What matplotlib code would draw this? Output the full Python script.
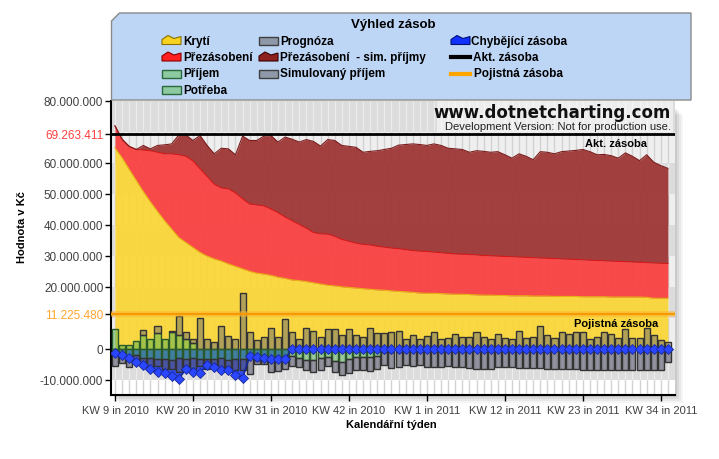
import matplotlib.pyplot as plt
import matplotlib.patches as mpatches
from matplotlib.colors import to_rgba
import numpy as np

plt.rcParams['font.family'] = ['Liberation Sans', 'DejaVu Sans']

W, H = 719, 460
M = 1e6

# values in millions of Kc, one per week from KW 9 2010
kryti = [64.7, 61.5, 57.8, 54.2, 50.6, 47.3, 44.2, 41.2, 38.5, 35.8,
         34.2, 32.6, 31.0, 29.8, 28.9, 28.2, 27.3, 26.5, 25.7, 24.9,
         24.3, 24.0, 23.6, 23.0, 22.6, 22.1, 21.9, 21.6, 21.2, 20.8,
         20.4, 20.2, 19.9, 19.7, 19.5, 19.3, 19.1, 18.9, 18.8, 18.6,
         18.4, 18.3, 18.1, 17.9, 17.8, 17.8, 17.7, 17.6, 17.5, 17.5,
         17.4, 17.3, 17.2, 17.2, 17.1, 17.1, 17.0, 17.0, 17.0, 16.9,
         16.9, 16.9, 16.8, 16.8, 16.8, 16.8, 16.7, 16.7, 16.7, 16.7,
         16.6, 16.6, 16.6, 16.6, 16.6, 16.5, 16.2, 16.2, 16.2]
prezasobeni = [7.1, 6.0, 7.4, 10.0, 13.4, 16.5, 19.1, 21.6, 24.3, 26.7,
               27.8, 27.9, 27.0, 25.7, 24.1, 23.6, 24.2, 23.7, 22.6, 21.7,
               22.0, 22.0, 21.4, 20.8, 19.8, 19.1, 18.1, 17.2, 16.2, 16.2,
               16.5, 16.0, 15.3, 14.9, 14.5, 14.3, 14.3, 14.1, 13.9, 13.8,
               13.8, 13.6, 13.5, 13.5, 13.5, 13.3, 13.2, 13.1, 13.0, 12.9,
               12.9, 12.9, 12.8, 12.7, 12.7, 12.6, 12.6, 12.5, 12.4, 12.4,
               12.3, 12.2, 12.2, 12.1, 12.0, 11.9, 11.9, 11.8, 11.7, 11.6,
               11.6, 11.5, 11.4, 11.3, 11.2, 11.2, 11.4, 11.3, 11.2]
prezasobeni_sim = [0, 0, 0, 0, 1.5, 0.6, 2.2, 2.9, 3.2, 6.4,
                   6.9, 6.6, 10.7, 10.0, 9.8, 12.8, 12.9, 12.3, 20.2, 20.5,
                   20.8, 22.5, 23.7, 22.8, 25.8, 26.3, 26.6, 28.6, 29.4, 28.3,
                   30.5, 30.9, 30.3, 30.6, 30.9, 29.7, 30.2, 30.8, 31.5, 32.2,
                   33.4, 33.9, 34.4, 34.4, 34.2, 34.9, 34.6, 33.9, 33.9, 33.8,
                   33.0, 33.6, 33.6, 33.4, 33.7, 32.8, 31.8, 33.3, 32.6, 31.6,
                   34.3, 34.2, 33.8, 34.6, 34.9, 35.2, 35.6, 35.0, 34.1, 34.3,
                   34.0, 33.3, 35.1, 34.1, 32.8, 34.8, 32.5, 31.5, 30.7]
prijem = [6.4, 1.2, 1.2, 2.3, 4.5, 3.1, 4.9, 3.1, 5.2, 4.5, 3.1, 1.8] + [0] * 67
sim_prijem = [0, 0, 0, 0, 1.6, 0, 2.3, 0, 0.4, 6.0,
              2.1, 1.3, 9.9, 3.1, 2.2, 7.4, 4.0, 3.1, 18.0, 5.2,
              2.9, 3.8, 6.7, 3.8, 9.6, 5.2, 3.1, 6.7, 5.8, 3.8,
              6.4, 6.2, 4.5, 6.4, 4.5, 3.8, 6.7, 5.1, 4.9, 5.4,
              5.8, 3.1, 4.5, 3.1, 4.0, 5.2, 3.1, 3.5, 4.8, 3.8,
              3.8, 5.4, 3.8, 3.1, 4.8, 3.5, 3.1, 5.6, 3.5, 3.8,
              7.4, 4.3, 3.5, 5.4, 4.8, 5.2, 5.2, 3.1, 3.8, 5.4,
              4.8, 3.5, 6.4, 3.5, 3.5, 6.7, 4.5, 2.6, 2.2]
potreba = [-2.2, -2.2, -2.5, -2.0, -3.0, -3.2, -3.3, -3.3, -3.6, -3.0,
           -3.3, -3.0, -3.3, -3.5, -3.3, -3.2, -3.6, -3.3, -3.3, -2.5,
           -3.6, -3.6, -3.0, -2.6, -2.6, -2.3, -3.0, -3.6, -3.6, -3.0,
           -2.6, -4.0, -4.2, -3.3, -2.6, -2.6, -2.8, -2.3, -1.0, -1.2,
           -1.2] + [0] * 38
prognoza = [-3.3, -2.4, -3.4, -2.2, -2.7, -2.8, -2.4, -3.3, -3.0, -4.7,
            -2.2, -3.6, -2.2, -3.1, -2.6, -3.4, -2.3, -3.5, -3.5, -5.6,
            -1.4, -1.4, -4.7, -4.7, -4.0, -3.2, -2.9, -3.2, -4.1, -4.0,
            -2.9, -3.7, -4.2, -4.6, -4.2, -4.4, -4.5, -4.3, -4.2, -5.0,
            -4.7, -5.2, -5.5, -5.2, -5.9, -5.9, -5.9, -5.5, -5.9, -5.9,
            -6.2, -6.6, -6.6, -6.6, -5.9, -5.9, -5.9, -6.2, -6.2, -6.2,
            -6.2, -6.6, -6.6, -6.6, -6.6, -6.6, -6.8, -6.8, -6.8, -6.8,
            -6.8, -6.8, -6.8, -6.8, -6.8, -6.8, -6.8, -6.8, -4.4]
chybejici = [-1.6, -2.0, -3.0, -4.4, -5.4, -6.6, -7.7, -7.8, -9.0, -9.8,
             -6.6, -7.5, -7.9, -5.2, -5.9, -6.8, -7.0, -8.4, -9.5, -2.5,
             -2.7, -3.0, -3.3, -3.3, -3.3] + [-0.2] * 54

akt_zasoba = 69263411
pojistna_zasoba = 11225480

y_ticks = [-10, 0, 20, 30, 40, 50, 60, 80]
tick_pos = [0, 11, 22, 33, 44, 55, 66, 77]
tick_labels = ['KW 9 in 2010', 'KW 20 in 2010', 'KW 31 in 2010', 'KW 42 in 2010',
               'KW 1 in 2011', 'KW 12 in 2011', 'KW 23 in 2011', 'KW 34 in 2011']

x = np.arange(len(kryti))
top1 = np.array(kryti) * M
top2 = top1 + np.array(prezasobeni) * M
top3 = top2 + np.array(prezasobeni_sim) * M


def fx(px):
    return px / W


def fy(py):
    return 1 - py / H


fig = plt.figure(figsize=(W / 100, H / 100), dpi=100)

# soft shadow behind plot area
for k, a in enumerate([0.04, 0.05, 0.06, 0.07]):
    off = 8 - 2 * k
    fig.add_artist(mpatches.Rectangle((fx(111 + off), fy(396 + off)), (675 - 111) / W, (396 - 108) / H,
                                      transform=fig.transFigure, color='black', alpha=a, lw=0, zorder=-1))

ax = fig.add_axes([fx(111), fy(396), (675 - 111) / W, (396 - 101.5) / H])
ax.set_xlim(-0.56, 79.0)
ax.set_ylim(-15 * M, 80 * M)
ax.set_facecolor('white')

# alternating bands and week grid
ax.vlines(x, -15 * M, 80 * M, color='#d2d2d2', lw=1, zorder=0.3)
for lo in [60, 40, 20, 0]:
    ax.axhspan(lo * M, (lo + 10) * M, color='#efefef', lw=0, zorder=0.2)
for lo in [70, 50, 30, 10, -10]:
    ax.axhspan(lo * M, (lo + 10) * M, color='#dcdcdc', lw=0, zorder=0.2)
    ax.vlines(x, lo * M, (lo + 10) * M, color='#ececec', lw=1, zorder=0.4)

# stacked areas
ax.fill_between(x, 0, top1, color='#fad634', alpha=0.92, lw=0, zorder=1)
ax.fill_between(x, top1, top2, color='#fa3c3c', alpha=0.92, lw=0, zorder=1)
ax.fill_between(x, top2, top3, color='#9c3030', alpha=0.92, lw=0, zorder=1)
ax.plot(x, top1, color='#e8b010', lw=0.8, zorder=1.2)
ax.plot(x, top2, color='#d81818', lw=0.8, zorder=1.2)
ax.plot(x, top3, color='#7a1c1c', lw=0.8, zorder=1.2)

# missing stock area
chyb = np.array(chybejici) * M
ax.fill_between(x, 0, chyb, color='#1e3cf5', alpha=0.9, lw=0, zorder=1.5)


def bars(vals, bottom, color, edge, alpha):
    v = np.array(vals) * M
    b = np.array(bottom) * M
    keep = v != 0
    ax.bar(x[keep], v[keep], 0.85, bottom=b[keep], facecolor=to_rgba(color, alpha),
           edgecolor=edge, linewidth=1, zorder=3)


zeros = [0] * len(x)
bars(prijem, zeros, '#50b050', '#2a5a2a', 0.5)
bars(sim_prijem, prijem, '#6e6e6e', '#333333', 0.5)
bars(potreba, zeros, '#50b050', '#2a5a2a', 0.5)
bars(prognoza, potreba, '#5a5a6e', '#333333', 0.6)

ax.plot(x, chyb, color='#142898', lw=1.2, marker='D', ms=5.5, mfc='#2a46ff', mec='#18289a',
        mew=0.6, zorder=4)

# reference lines
ax.axhline(akt_zasoba, color='black', lw=2, zorder=5)
ax.axhline(pojistna_zasoba, color='#ffb030', lw=4, alpha=0.6, zorder=5)
ax.axhline(pojistna_zasoba, color='#f59a00', lw=1.5, zorder=5)

yt = [v * M for v in y_ticks] + [akt_zasoba, pojistna_zasoba]
ax.set_yticks(yt)
ax.set_yticklabels([f"{v:,.0f}".replace(',', '.') for v in yt])
labels = ax.get_yticklabels()
labels[-2].set_color('#ff4040')
labels[-1].set_color('#ffa530')
for lab in labels[:-2]:
    lab.set_color('#404040')
ax.set_xticks(tick_pos)
ax.set_xticklabels(tick_labels, color='#404040')
ax.tick_params(axis='y', direction='out', length=4, width=1, pad=1.5, labelsize=8.5)
ax.tick_params(axis='x', direction='out', length=4, width=1, pad=3, labelsize=8)
for s in ['top', 'right']:
    ax.spines[s].set_visible(False)
for s in ['left', 'bottom']:
    ax.spines[s].set_linewidth(1.5)

# line labels and watermark
fig.text(fx(647), fy(144), 'Akt. zásoba', ha='right', va='center', fontsize=8, fontweight='bold')
fig.text(fx(658), fy(324), 'Pojistná zásoba', ha='right', va='center', fontsize=8, fontweight='bold')
fig.add_artist(mpatches.Rectangle((fx(437), fy(133)), (673 - 437) / W, 31 / H, transform=fig.transFigure,
                                  color='white', alpha=0.5, lw=0, zorder=2))
fig.text(fx(671), fy(113), 'www.dotnetcharting.com', ha='right', va='center', fontsize=12,
         fontweight='bold', family='DejaVu Sans', color='#111111', zorder=3)
fig.text(fx(671), fy(127), 'Development Version: Not for production use.', ha='right', va='center',
         fontsize=8, color='#222222', zorder=3)

# axis titles
fig.text(fx(22), fy(227), 'Hodnota v Kč', rotation=90, ha='center', va='center', fontsize=8, fontweight='bold')
fig.text(fx(391), fy(425), 'Kalendářní týden', ha='center', va='center', fontsize=8, fontweight='bold')

# legend box
box = mpatches.Polygon([(fx(111.5), fy(101)), (fx(111.5), fy(22)), (fx(119.5), fy(14)),
                        (fx(691), fy(14)), (fx(691), fy(101))], closed=True, transform=fig.transFigure,
                       facecolor='#bdd6f6', edgecolor='#8a8a8a', lw=1, zorder=2)
fig.add_artist(box)
fig.text(fx(393), fy(25), 'Výhled zásob', ha='center', va='center', fontsize=9.5, fontweight='bold', zorder=3)


def area_icon(x0, yc, color, edge):
    pts = [(x0, yc + 4), (x0, yc - 1), (x0 + 6, yc - 5), (x0 + 12, yc - 2), (x0 + 19, yc - 4), (x0 + 19, yc + 4)]
    fig.add_artist(mpatches.Polygon([(fx(a), fy(b)) for a, b in pts], closed=True, transform=fig.transFigure,
                                    facecolor=color, edgecolor=edge, lw=0.8, zorder=3))


def bar_icon(x0, yc, color, edge):
    fig.add_artist(mpatches.Rectangle((fx(x0), fy(yc + 4)), 19 / W, 8 / H, transform=fig.transFigure,
                                      facecolor=color, edgecolor=edge, lw=1, zorder=3))


def line_icon(x0, yc, color):
    fig.add_artist(plt.Line2D([fx(x0), fx(x0 + 19)], [fy(yc), fy(yc)], transform=fig.transFigure,
                              color=color, lw=3, zorder=3))


rows = [41.5, 58, 74.5, 91]
area_icon(162, rows[0], '#f7d21e', '#8a7000')
area_icon(162, rows[1], '#ff2020', '#8a0000')
bar_icon(162, rows[2], '#8ccaa2', '#2a6a3a')
bar_icon(162, rows[3], '#8ccaa2', '#2a6a3a')
bar_icon(259, rows[0], '#8e98a8', '#404040')
area_icon(259, rows[1], '#8e2020', '#3a0000')
bar_icon(259, rows[2], '#8e98a8', '#404040')
area_icon(451, rows[0], '#1030ff', '#001070')
line_icon(451, rows[1], 'black')
line_icon(451, rows[2], '#ffa500')

leg_items = [(183, rows[0], 'Krytí'), (183, rows[1], 'Přezásobení'), (183, rows[2], 'Příjem'),
             (183, rows[3], 'Potřeba'), (280, rows[0], 'Prognóza'),
             (280, rows[1], 'Přezásobení  - sim. příjmy'), (280, rows[2], 'Simulovaný příjem'),
             (471, rows[0], 'Chybějící zásoba'), (473, rows[1], 'Akt. zásoba'), (474, rows[2], 'Pojistná zásoba')]
for lx, ly, txt in leg_items:
    fig.text(fx(lx), fy(ly), txt, ha='left', va='center', fontsize=8.5, fontweight='bold', zorder=3)

fig.savefig('out.png', dpi=100)
